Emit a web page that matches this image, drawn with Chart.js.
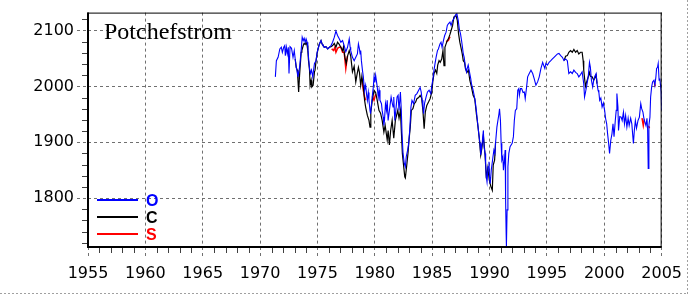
<!DOCTYPE html>
<html><head><meta charset="utf-8">
<script src="https://cdn.jsdelivr.net/npm/chart.js@4.4.1/dist/chart.umd.min.js"></script>
<style>html,body{margin:0;padding:0;background:#fff;}canvas{display:block;}</style>
</head><body>
<canvas id="c" width="688" height="294"></canvas>
<script>
// ---- data (years, nT) ----
const titleText = 'Potchefstrom';
const seriesNames = ['O', 'C', 'S'];
const seriesColors = ['#0000ff', '#000000', '#ff0000'];
const xRange = [1955, 2005];
const yRange = [1712.5, 2132];
const xMajorStep = 5, xMinorStep = 1;
const yMajorStep = 100, yMinorStep = 20;

const oYear = [
1971.33,1971.42,1971.57,1971.72,1971.85,1971.94,1972.06,1972.15,1972.20,1972.29,
1972.37,1972.46,1972.52,1972.61,1972.74,1972.87,1972.98,1973.06,1973.15,1973.24,
1973.30,1973.44,1973.58,1973.67,1973.76,1973.84,1973.93,1974.01,1974.10,1974.16,
1974.22,1974.31,1974.39,1974.48,1974.59,1974.68,1974.74,1974.88,1974.97,1975.09,
1975.17,1975.31,1975.40,1975.48,1975.60,1975.74,1975.89,1976.04,1976.18,1976.32,
1976.47,1976.61,1976.75,1976.90,1977.04,1977.19,1977.33,1977.47,1977.62,1977.77,
1977.85,1977.90,1978.05,1978.20,1978.34,1978.48,1978.57,1978.66,1978.72,1978.77,
1978.83,1978.92,1979.00,1979.06,1979.11,1979.20,1979.29,1979.35,1979.43,1979.49,
1979.58,1979.63,1979.74,1979.87,1979.93,1980.00,1980.07,1980.15,1980.21,1980.30,
1980.37,1980.45,1980.58,1980.64,1980.73,1980.79,1980.84,1980.93,1981.02,1981.08,
1981.16,1981.31,1981.42,1981.51,1981.59,1981.65,1981.74,1981.83,1981.94,1982.03,
1982.11,1982.23,1982.31,1982.37,1982.46,1982.57,1982.66,1982.74,1982.86,1982.95,
1983.04,1983.15,1983.24,1983.38,1983.52,1983.67,1983.82,1983.95,1984.04,1984.13,
1984.19,1984.25,1984.33,1984.47,1984.59,1984.73,1984.88,1984.97,1985.05,1985.16,
1985.25,1985.34,1985.46,1985.54,1985.68,1985.77,1985.86,1985.98,1986.09,1986.21,
1986.32,1986.41,1986.55,1986.65,1986.78,1986.89,1987.07,1987.15,1987.27,1987.36,
1987.47,1987.56,1987.64,1987.71,1987.79,1987.90,1987.99,1988.05,1988.14,1988.22,
1988.36,1988.42,1988.57,1988.74,1988.85,1988.94,1989.03,1989.09,1989.17,1989.23,
1989.31,1989.37,1989.46,1989.52,1989.61,1989.66,1989.72,1989.78,1989.87,1989.95,
1990.00,1990.06,1990.15,1990.30,1990.38,1990.47,1990.52,1990.64,1990.73,1990.82,
1990.87,1990.95,1991.01,1991.07,1991.16,1991.21,1991.30,1991.36,1991.40,1991.45,
1991.47,1991.53,1991.60,1991.68,1991.79,1991.97,1992.08,1992.16,1992.25,1992.37,
1992.46,1992.55,1992.60,1992.70,1992.80,1992.92,1993.03,1993.11,1993.23,1993.32,
1993.46,1993.61,1993.76,1993.89,1994.04,1994.19,1994.33,1994.48,1994.63,1994.71,
1994.82,1994.91,1995.05,1995.19,1995.34,1995.48,1995.62,1995.77,1995.92,1996.05,
1996.20,1996.35,1996.49,1996.63,1996.78,1996.91,1997.06,1997.21,1997.35,1997.50,
1997.64,1997.78,1997.93,1998.07,1998.21,1998.28,1998.36,1998.45,1998.60,1998.71,
1998.79,1998.88,1998.99,1999.08,1999.18,1999.29,1999.37,1999.46,1999.53,1999.60,
1999.70,1999.81,1999.92,2000.03,2000.12,2000.21,2000.29,2000.38,2000.46,2000.57,
2000.67,2000.76,2000.85,2000.96,2001.04,2001.10,2001.19,2001.24,2001.35,2001.47,
2001.56,2001.67,2001.76,2001.86,2001.97,2002.08,2002.17,2002.30,2002.40,2002.49,
2002.54,2002.62,2002.71,2002.81,2002.94,2003.06,2003.18,2003.26,2003.37,2003.46,
2003.54,2003.63,2003.72,2003.78,2003.83,2003.89,2003.98,2004.04,2004.13,2004.21,
2004.33,2004.41,2004.50,2004.56,2004.64,2004.70,2004.78,2004.84,2004.96,2005.00
];
const oVal = [
2017,2046,2052,2067,2070,2061,2070,2073,2055,2070,
2058,2070,2023,2071,2068,2052,2064,2049,2034,2026,
2017,2034,2064,2088,2082,2086,2079,2085,2079,2070,
2052,2032,2023,2029,2017,2032,2041,2046,2061,2070,
2076,2082,2076,2073,2070,2071,2067,2070,2073,2079,
2088,2099,2091,2085,2079,2082,2073,2062,2070,2085,
2070,2064,2052,2046,2052,2058,2076,2067,2058,2064,
2046,2029,2017,2002,1993,2002,1984,1975,1989,1975,
1957,1951,1975,1999,2017,2007,2020,2008,1999,1981,
1993,1975,1969,1957,1945,1930,1939,1969,1957,1975,
1939,1963,1981,1971,1963,1981,1939,1957,1981,1984,
1957,1990,1957,1916,1880,1862,1856,1874,1886,1898,
1921,1963,1975,1969,1984,1987,1993,1998,1990,1975,
1963,1951,1969,1981,1990,1993,1987,2002,2011,2029,
2041,2052,2064,2067,2076,2079,2070,2082,2091,2097,
2109,2112,2115,2109,2118,2121,2129,2130,2118,2103,
2094,2082,2070,2058,2052,2034,2026,2032,2038,2029,
2014,2005,1993,1975,1957,1939,1921,1910,1898,1877,
1892,1901,1921,1892,1880,1862,1838,1829,1856,1865,
1838,1826,1850,1874,1886,1880,1898,1927,1939,1951,
1960,1939,1898,1868,1874,1850,1868,1886,1796,1734,
1714,1779,1856,1880,1892,1898,1910,1939,1957,1960,
1993,1996,1984,1996,1996,1989,1990,1978,1999,2017,
2023,2029,2023,2014,2002,2008,2017,2032,2043,2038,
2032,2041,2038,2043,2046,2049,2052,2055,2058,2059,
2055,2052,2046,2049,2046,2023,2026,2023,2029,2025,
2023,2017,2021,2026,2005,1981,1989,1999,2017,2043,
2034,2011,1999,2011,2018,2023,2005,1993,1989,1975,
1979,1963,1970,1957,1942,1933,1915,1898,1880,1904,
1915,1933,1910,1939,1957,1987,1963,1921,1946,1945,
1939,1954,1933,1948,1927,1943,1930,1943,1933,1910,
1898,1921,1939,1925,1939,1945,1969,1960,1954,1942,
1936,1930,1943,1921,1853,1930,1945,1981,1999,2008,
2011,2002,2017,2032,2034,2041,2011,2014,1990,1957
];

const cYear = [
1973.06,1973.15,1973.24,1973.30,1973.36,1973.44,1973.53,1973.58,1973.64,1973.76,
1973.84,1973.93,1974.01,1974.10,1974.16,1974.22,1974.31,1974.36,1974.45,1974.51,
1974.62,1974.74,1974.79,1974.88,1974.97,1975.09,1975.17,1975.31,1975.40,1975.60,
1975.74,1975.89,1976.04,1976.18,1976.32,1976.47,1976.61,1976.75,1976.90,1977.04,
1977.19,1977.27,1977.39,1977.51,1977.62,1977.77,1977.90,1978.05,1978.20,1978.34,
1978.44,1978.57,1978.66,1978.77,1978.87,1979.00,1979.11,1979.20,1979.35,1979.49,
1979.58,1979.65,1979.78,1979.93,1980.07,1980.21,1980.36,1980.50,1980.64,1980.79,
1980.90,1981.08,1981.16,1981.27,1981.38,1981.51,1981.65,1981.79,1982.00,1982.11,
1982.23,1982.31,1982.40,1982.52,1982.61,1982.66,1982.80,1982.89,1982.98,1983.09,
1983.18,1983.32,1983.44,1983.56,1983.67,1983.82,1983.95,1984.08,1984.19,1984.30,
1984.40,1984.53,1984.68,1984.82,1984.97,1985.05,1985.16,1985.29,1985.40,1985.48,
1985.60,1985.70,1985.83,1985.94,1986.03,1986.11,1986.21,1986.32,1986.41,1986.55,
1986.65,1986.78,1986.89,1987.07,1987.19,1987.30,1987.41,1987.50,1987.62,1987.71,
1987.82,1987.90,1988.03,1988.16,1988.28,1988.42,1988.57,1988.71,1988.85,1988.98,
1989.09,1989.23,1989.33,1989.46,1989.61,1989.72,1989.85,1989.98,1990.11,1990.24,
1990.32,1990.44,1990.52,1993.00,1996.49,1996.63,1996.78,1996.91,1997.06,1997.21,
1997.35,1997.50,1997.64,1997.78,1997.93,1998.07,1998.16,1998.21,1998.30,1998.36,
1998.45,1998.60,1998.71,1998.79,1998.94,1999.08,1999.16,1999.29,1999.37
];
const cVal = [
2049,2034,2029,2011,1990,2020,2046,2061,2064,2073,
2077,2075,2079,2073,2064,2046,2029,2002,2011,1999,
2002,2026,2029,2046,2059,2070,2076,2082,2076,2070,
2071,2067,2070,2071,2073,2077,2070,2079,2075,2070,
2064,2071,2052,2041,2054,2064,2054,2026,2036,2008,
2020,2034,2025,2002,2018,1999,1975,1963,1948,1939,
1927,1954,1975,1993,1989,1975,1957,1952,1939,1918,
1930,1904,1921,1895,1921,1939,1907,1939,1957,1943,
1957,1921,1880,1856,1838,1836,1862,1880,1904,1927,
1957,1960,1969,1972,1978,1980,1984,1979,1957,1924,
1954,1966,1972,1978,1990,2008,2023,2029,2023,2038,
2046,2043,2049,2064,2037,2070,2076,2082,2085,2093,
2100,2109,2124,2127,2118,2094,2079,2070,2058,2046,
2043,2032,2025,2029,2011,1999,1984,1978,1951,1930,
1910,1877,1889,1912,1877,1835,1854,1832,1821,1814,
1859,1868,1898,null,2046,2054,2055,2061,2064,2061,
2066,2061,2064,2058,2061,2061,2046,2029,2011,2000,
2007,2017,2025,2018,2017,2011,2014,2020,2005
];

const sYear = [
1976.24,1976.41,1976.52,1976.61,1976.75,1976.90,1977.04,1977.19,1977.33,1977.47,1977.56,1977.62,
1978.00,1978.87,1979.00,1979.11,1979.20,
1979.50,1979.78,1979.93,1980.07,
1983.00,1986.21,1986.41,1986.55,
1995.00,2003.29,2003.40,2003.49,
2003.60,2003.87,2003.94,
2004.10,2004.37,2004.44
];
const sVal = [
2067,2064,2070,2061,2068,2070,2070,2061,2061,2032,2046,2054,
null,2014,1993,1981,1975,
null,1982,1975,1986,
null,2080,2082,2089,
null,1943,1930,1941,
null,1929,1925,
null,2007,2000
];

function pts(xs, ys) { return xs.map((x, i) => ({ x: x, y: ys[i] })); }

const decor = {
  id: 'decor',
  afterDraw(chart) {
    const { ctx, chartArea: a, scales } = chart;
    ctx.save();
    // minor tick marks
    ctx.strokeStyle = '#404040'; ctx.lineWidth = 1; ctx.setLineDash([]);
    ctx.beginPath();
    for (let yr = xRange[0]; yr <= xRange[1]; yr += xMinorStep) {
      if (yr % xMajorStep === 0) continue;
      const px = Math.round(scales.x.getPixelForValue(yr)) + 0.5;
      ctx.moveTo(px, a.bottom); ctx.lineTo(px, a.bottom + 6);
    }
    for (let v = Math.ceil(yRange[0] / yMinorStep) * yMinorStep; v <= yRange[1]; v += yMinorStep) {
      if (v % yMajorStep === 0) continue;
      const py = Math.round(scales.y.getPixelForValue(v)) + 0.5;
      ctx.moveTo(a.left - 6, py); ctx.lineTo(a.left, py);
    }
    ctx.stroke();
    // frame
    ctx.fillStyle = '#000';
    ctx.fillRect(a.left - 1, a.top, 2, a.bottom - a.top + 1);
    ctx.fillRect(a.left - 1, a.bottom - 1, a.right - a.left + 1, 2);
    ctx.fillRect(a.left - 1, a.top, a.right - a.left + 1, 1);
    ctx.fillRect(a.right - 1, a.top, 1, a.bottom - a.top);
    // outer border (right / bottom)
    ctx.strokeStyle = '#a0a0a0'; ctx.setLineDash([2, 2]);
    ctx.beginPath();
    ctx.moveTo(687.5, 0); ctx.lineTo(687.5, 294);
    ctx.moveTo(0, 293.5); ctx.lineTo(688, 293.5);
    ctx.stroke();
    ctx.setLineDash([]);
    // title
    ctx.fillStyle = '#000';
    ctx.font = '24px "Liberation Serif"';
    ctx.textBaseline = 'alphabetic'; ctx.textAlign = 'left';
    ctx.fillText(titleText, a.left + 16, a.top + 26);
    // legend
    ctx.font = 'bold 16px "Liberation Sans"';
    const ly = [200, 217, 234];
    seriesNames.forEach((n, i) => {
      ctx.fillStyle = seriesColors[i];
      ctx.fillRect(a.left + 9, ly[i] - 1, 41, 2);
      ctx.fillText(n, a.left + 58, ly[i] + 6);
    });
    ctx.restore();
  }
};

const tickFont = { family: 'DejaVu Sans', size: 16 };
new Chart(document.getElementById('c'), {
  type: 'line',
  data: {
    datasets: [
      { label: seriesNames[0], data: pts(oYear, oVal), borderColor: seriesColors[0], borderWidth: 1.1, pointRadius: 0, tension: 0, spanGaps: false },
      { label: seriesNames[1], data: pts(cYear, cVal), borderColor: seriesColors[1], borderWidth: 1.2, pointRadius: 0, tension: 0, spanGaps: false },
      { label: seriesNames[2], data: pts(sYear, sVal), borderColor: seriesColors[2], borderWidth: 1.5, pointRadius: 0, tension: 0, spanGaps: false }
    ]
  },
  options: {
    responsive: false, animation: false, devicePixelRatio: 1,
    layout: { padding: { top: 12, right: 21, left: 0, bottom: 0 } },
    plugins: { legend: { display: false }, tooltip: { enabled: false } },
    scales: {
      x: {
        type: 'linear', min: xRange[0], max: xRange[1],
        afterFit(s) { s.height = 47; },
        ticks: { stepSize: xMajorStep, includeBounds: false, autoSkip: false, maxRotation: 0, color: '#000', font: tickFont, padding: 6, callback: v => String(v) },
        grid: { color: '#707070', lineWidth: 1, tickLength: 11, tickColor: '#707070', tickBorderDash: [3, 3] },
        border: { display: false, dash: [3, 3] }
      },
      y: {
        type: 'linear', min: yRange[0], max: yRange[1],
        afterFit(s) { s.width = 88; },
        ticks: { stepSize: yMajorStep, includeBounds: false, color: '#000', font: tickFont, padding: 3, callback: v => String(v) },
        grid: { color: '#707070', lineWidth: 1, tickLength: 11, tickColor: '#707070', tickBorderDash: [3, 3] },
        border: { display: false, dash: [3, 3] }
      }
    }
  },
  plugins: [decor]
});
</script>
</body></html>
